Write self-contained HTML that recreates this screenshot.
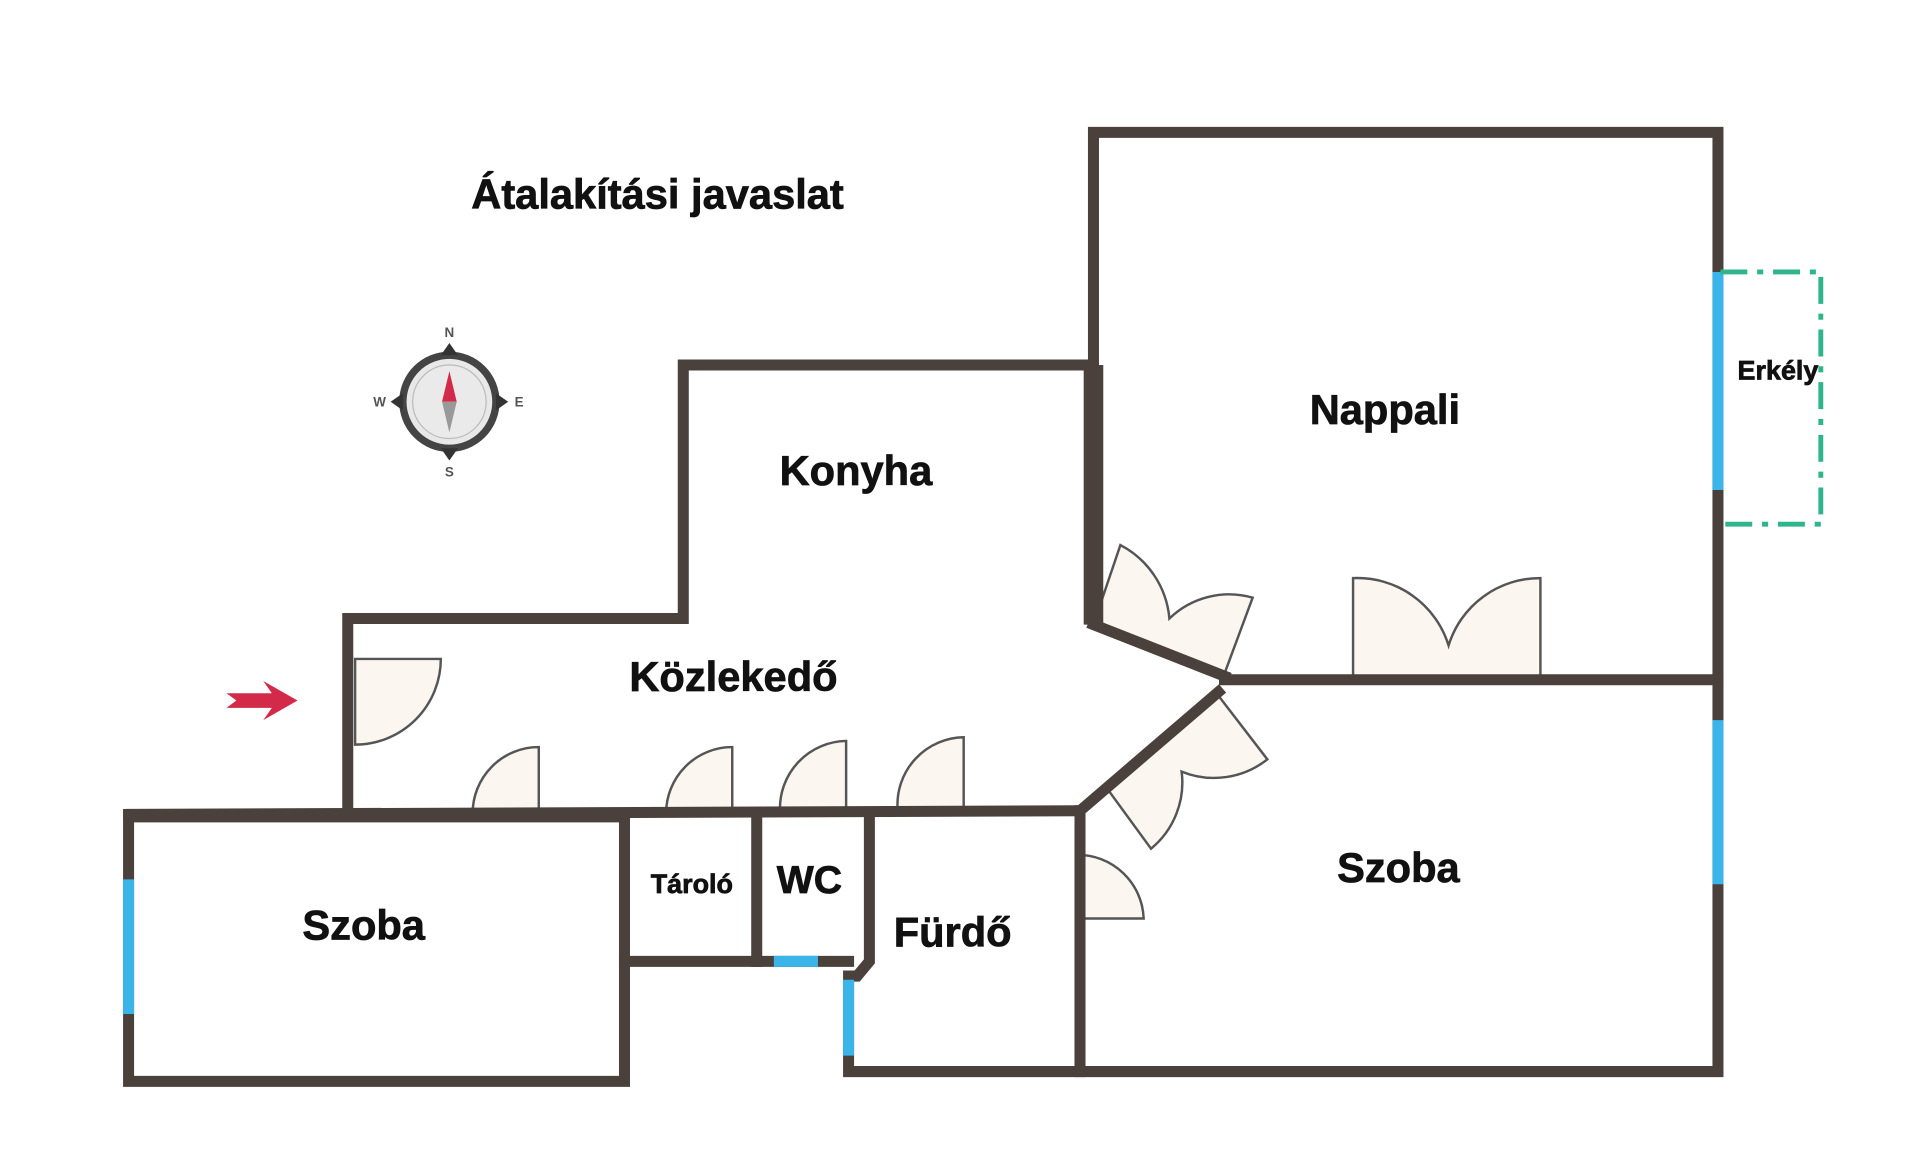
<!DOCTYPE html>
<html><head><meta charset="utf-8"><style>
html,body{margin:0;padding:0;background:#fff;width:1920px;height:1166px;overflow:hidden}
svg{display:block}
text{font-family:"Liberation Sans",sans-serif;font-weight:bold;fill:#111;stroke:#111;stroke-width:0.6}
</style></head><body>
<svg width="1920" height="1166" viewBox="0 0 1568 952" xmlns="http://www.w3.org/2000/svg">
<g fill="#fbf6ef" stroke="#555" stroke-width="2">
<path d="M290,538 L290,608 A70,70 0 0 0 360,538 Z"/>
<path d="M440,664 L440,610 A54,54 0 0 0 386,664 Z"/>
<path d="M598,664 L598,610 A54,54 0 0 0 544,664 Z"/>
<path d="M691,662 L691,605 A55,55 0 0 0 637,662 Z"/>
<path d="M787,660 L787,602 A55,55 0 0 0 733,660 Z"/>
<path d="M880,750 L880,698 A54,54 0 0 1 934,750 Z"/>
<path d="M1105,553 L1105,472 A78,78 0 0 1 1183,527 A78,78 0 0 1 1258,472 L1258,553 Z"/>
<path d="M893,510 L915,445 A75,75 0 0 1 955,505 A70,70 0 0 1 1023,488 L1000,550 Z"/>
<path d="M995,568 L1035,620 A70,70 0 0 1 965,630 A70,70 0 0 1 940,693 L905,645 Z"/>
</g>
<g fill="none" stroke="#4a403c" stroke-width="9" stroke-linecap="square" stroke-linejoin="miter">
<polyline points="893,298 893,108 1403,108 1403,875 693,875 693,797 700,797 710,785 710,665"/>
<polyline points="893,298 558,298 558,505 284,505 284,665"/>
<rect x="105" y="667" width="405" height="216"/>
<line x1="105" y1="665" x2="880" y2="662"/>
<line x1="510" y1="785" x2="618" y2="785"/>
<line x1="618" y1="665" x2="618" y2="785"/>
<line x1="618" y1="785" x2="693" y2="785"/>
<line x1="882" y1="662" x2="882" y2="875"/>
<line x1="882" y1="662" x2="995" y2="565"/>
<line x1="1000" y1="555" x2="1403" y2="555"/>
<line x1="893" y1="510" x2="1000" y2="552"/>
</g>
<rect x="885" y="298" width="16" height="212" fill="#4a403c"/>
<g stroke="#3bb4ea" stroke-width="9">
<line x1="105" y1="718" x2="105" y2="828"/>
<line x1="1403" y1="222" x2="1403" y2="400"/>
<line x1="1403" y1="588" x2="1403" y2="722"/>
<line x1="693" y1="800" x2="693" y2="862"/>
<line x1="632" y1="785" x2="668" y2="785"/>
</g>
<polyline points="1405,222 1487,222 1487,428 1405,428" fill="none" stroke="#2fb58a" stroke-width="4" stroke-dasharray="22,8,5,8"/>
<path d="M185,566 L222,566 L215,556 L243,572 L215,588 L222,578 L185,578 L193,572 Z" fill="#d32a4a"/>
<g transform="translate(367,328)">
<circle r="38" fill="#e8e8e8" stroke="#444" stroke-width="6"/>
<circle r="30" fill="#eaeaea" stroke="#bbb" stroke-width="1"/>
<path d="M0,-48 L7,-38 L-7,-38Z M0,48 L7,38 L-7,38Z M-48,0 L-38,7 L-38,-7Z M48,0 L38,7 L38,-7Z" fill="#333"/>
<path d="M0,-25 L6,0 L-6,0Z" fill="#d32a4a"/>
<path d="M0,25 L6,0 L-6,0Z" fill="#999"/>
<text x="0" y="-53" font-size="11" text-anchor="middle" style="fill:#555;stroke:none">N</text>
<text x="0" y="61" font-size="11" text-anchor="middle" style="fill:#555;stroke:none">S</text>
<text x="-57" y="4" font-size="11" text-anchor="middle" style="fill:#555;stroke:none">W</text>
<text x="57" y="4" font-size="11" text-anchor="middle" style="fill:#555;stroke:none">E</text>
</g>
<text x="537" y="170" font-size="34" text-anchor="middle">Átalakítási javaslat</text>
<text x="1131" y="346" font-size="34" text-anchor="middle">Nappali</text>
<text x="1452" y="310" font-size="22" text-anchor="middle">Erkély</text>
<text x="699" y="396" font-size="34" text-anchor="middle">Konyha</text>
<text x="599" y="564" font-size="34" text-anchor="middle">Közlekedő</text>
<text x="297" y="767" font-size="34" text-anchor="middle">Szoba</text>
<text x="565" y="729" font-size="22" text-anchor="middle">Tároló</text>
<text x="661" y="729" font-size="32" text-anchor="middle">WC</text>
<text x="778" y="773" font-size="34" text-anchor="middle">Fürdő</text>
<text x="1142" y="720" font-size="34" text-anchor="middle">Szoba</text>
</svg>
</body></html>
